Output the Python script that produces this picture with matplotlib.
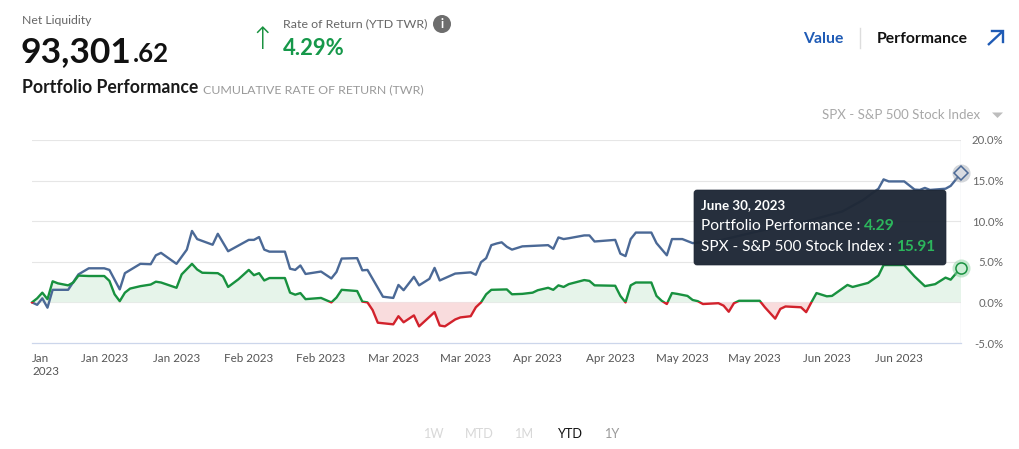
import matplotlib
matplotlib.use("Agg")
import matplotlib.pyplot as plt
import matplotlib.dates as mdates
from matplotlib.patches import Rectangle, FancyBboxPatch, Circle, Polygon
import pandas as pd

# ---------------- data ----------------
spx_dates = ["2023-01-01", "2023-01-02", "2023-01-03", "2023-01-04", "2023-01-05", "2023-01-08",
             "2023-01-10", "2023-01-12", "2023-01-15", "2023-01-16", "2023-01-18", "2023-01-19",
             "2023-01-22", "2023-01-24", "2023-01-25", "2023-01-26", "2023-01-29", "2023-01-31",
             "2023-02-01", "2023-02-02", "2023-02-05", "2023-02-06", "2023-02-08", "2023-02-12",
             "2023-02-13", "2023-02-14", "2023-02-15", "2023-02-16", "2023-02-19", "2023-02-20",
             "2023-02-21", "2023-02-22", "2023-02-23", "2023-02-26", "2023-02-28", "2023-03-01",
             "2023-03-02", "2023-03-05", "2023-03-06", "2023-03-07", "2023-03-10", "2023-03-12",
             "2023-03-13", "2023-03-14", "2023-03-16", "2023-03-17", "2023-03-19", "2023-03-20",
             "2023-03-21", "2023-03-24", "2023-03-27", "2023-03-28", "2023-03-29", "2023-03-30",
             "2023-03-31", "2023-04-01", "2023-04-02", "2023-04-03", "2023-04-04", "2023-04-06",
             "2023-04-11", "2023-04-12", "2023-04-13", "2023-04-14", "2023-04-15", "2023-04-18",
             "2023-04-19", "2023-04-20", "2023-04-24", "2023-04-25", "2023-04-26", "2023-04-27",
             "2023-04-28", "2023-05-01", "2023-05-02", "2023-05-04", "2023-05-05", "2023-05-07",
             "2023-05-09", "2023-05-14", "2023-05-22", "2023-05-30", "2023-06-07", "2023-06-11",
             "2023-06-14", "2023-06-15", "2023-06-16", "2023-06-19", "2023-06-21", "2023-06-22",
             "2023-06-23", "2023-06-24", "2023-06-27", "2023-06-28", "2023-06-30"]
spx_values = [0.0, -0.3, 0.5, -0.65, 1.55, 1.55,
              3.45, 4.2, 4.2, 4.0, 1.6, 3.6,
              4.75, 4.7, 5.8, 6.1, 4.75, 6.5,
              8.8, 7.8, 7.1, 8.45, 6.3, 7.7,
              7.7, 8.05, 6.5, 6.25, 6.25, 4.15,
              4.0, 4.55, 3.5, 3.8, 2.95, 3.75,
              5.4, 5.45, 3.95, 4.0, 0.7, 0.55,
              2.15, 1.5, 3.15, 2.1, 2.9, 4.25,
              2.7, 3.55, 3.7, 3.4, 4.95, 5.45,
              7.05, 7.25, 7.4, 6.85, 6.5, 6.9,
              7.05, 6.6, 8.0, 7.8, 7.9, 8.25,
              8.25, 7.5, 7.7, 6.0, 5.7, 7.8,
              8.6, 8.6, 7.3, 5.8, 7.8, 7.8,
              7.3, 7.6, 8.8, 9.8, 11.2, 12.6,
              14.0, 15.15, 14.9, 14.9, 13.9, 13.85,
              14.1, 13.85, 14.0, 14.35, 15.91]

port_dates = ["2023-01-01", "2023-01-02", "2023-01-03", "2023-01-04", "2023-01-05", "2023-01-06",
              "2023-01-08", "2023-01-09", "2023-01-10", "2023-01-12", "2023-01-15", "2023-01-16",
              "2023-01-17", "2023-01-18", "2023-01-19", "2023-01-20", "2023-01-22", "2023-01-24",
              "2023-01-25", "2023-01-26", "2023-01-29", "2023-01-30", "2023-02-01", "2023-02-02",
              "2023-02-03", "2023-02-06", "2023-02-07", "2023-02-08", "2023-02-10", "2023-02-12",
              "2023-02-13", "2023-02-14", "2023-02-15", "2023-02-16", "2023-02-19", "2023-02-20",
              "2023-02-21", "2023-02-22", "2023-02-23", "2023-02-26", "2023-02-28", "2023-03-01",
              "2023-03-02", "2023-03-05", "2023-03-06", "2023-03-07", "2023-03-08", "2023-03-09",
              "2023-03-12", "2023-03-13", "2023-03-14", "2023-03-16", "2023-03-17", "2023-03-20",
              "2023-03-21", "2023-03-22", "2023-03-24", "2023-03-25", "2023-03-27", "2023-03-28",
              "2023-03-29", "2023-03-30", "2023-03-31", "2023-04-03", "2023-04-04", "2023-04-06",
              "2023-04-08", "2023-04-09", "2023-04-11", "2023-04-12", "2023-04-13", "2023-04-14",
              "2023-04-15", "2023-04-18", "2023-04-19", "2023-04-20", "2023-04-24", "2023-04-25",
              "2023-04-26", "2023-04-27", "2023-04-28", "2023-05-01", "2023-05-02", "2023-05-03",
              "2023-05-04", "2023-05-05", "2023-05-06", "2023-05-08", "2023-05-09", "2023-05-10",
              "2023-05-11", "2023-05-14", "2023-05-15", "2023-05-16", "2023-05-17", "2023-05-18",
              "2023-05-22", "2023-05-23", "2023-05-25", "2023-05-26", "2023-05-27", "2023-05-30",
              "2023-05-31", "2023-06-01", "2023-06-02", "2023-06-04", "2023-06-05", "2023-06-08",
              "2023-06-09", "2023-06-12", "2023-06-14", "2023-06-15", "2023-06-19", "2023-06-21",
              "2023-06-23", "2023-06-25", "2023-06-27", "2023-06-28", "2023-06-30"]
port_values = [0.0, 0.5, 1.2, 0.4, 2.6, 2.35,
               2.1, 2.45, 3.3, 3.25, 3.25, 2.65,
               1.0, 0.15, 1.2, 1.7, 2.0, 2.2,
               2.55, 2.45, 1.8, 3.45, 4.75, 4.05,
               3.65, 3.6, 3.2, 1.9, 2.85, 4.0,
               3.35, 3.6, 2.7, 3.0, 3.0, 1.2,
               0.95, 1.15, 0.4, 0.55, 0.0, 0.6,
               1.55, 1.4, 0.1, 0.0, -0.95, -2.5,
               -2.7, -1.7, -2.45, -1.6, -2.95, -1.2,
               -2.85, -2.95, -2.1, -1.85, -1.7, -0.6,
               0.0, 1.0, 1.55, 1.6, 1.0, 1.05,
               1.2, 1.5, 1.8, 1.55, 2.1, 1.9,
               2.25, 2.75, 2.65, 2.1, 2.05, 0.8,
               0.0, 2.1, 2.45, 2.45, 0.8, 0.2,
               -0.2, 1.15, 1.05, 0.8, 0.3, 0.15,
               -0.2, -0.1, -0.4, -1.15, -0.1, 0.2,
               0.2, -0.6, -2.0, -0.8, -0.5, -0.6,
               -1.2, 0.0, 1.15, 0.75, 0.8, 2.15,
               1.9, 2.4, 3.3, 4.6, 4.6, 3.2,
               2.0, 2.25, 3.05, 2.8, 4.29]

y_ticks = [-5, 0, 5, 10, 15, 20]
y_tick_labels = ["-5.0%", "0.0%", "5.0%", "10.0%", "15.0%", "20.0%"]
x_tick_dates = pd.date_range("2023-01-01", periods=13, freq="14D")
range_buttons = ["1W", "MTD", "1M", "YTD", "1Y"]

net_liquidity_int = "93,301"
net_liquidity_dec = ".62"
ytd_return = "4.29%"
tooltip_date = "June 30, 2023"
port_label = "Portfolio Performance"
spx_label = "SPX - S&P 500 Stock Index"
port_last = "4.29"
spx_last = "15.91"

# ---------------- style ----------------
W, H = 1020, 449
FONT = ["Lato", "DejaVu Sans"]
plt.rcParams["font.family"] = FONT
BLUE = "#4b6996"
GREEN = "#18913f"
RED = "#d2222c"
GREEN_FILL = "#e6f4ea"
RED_FILL = "#f9dcdd"
GRID = "#e6e6e6"
TICK = "#666666"

fig = plt.figure(figsize=(W / 100, H / 100), dpi=100)
fig.patch.set_facecolor("white")

x0, x1, ytop, ybot = 32, 961, 140, 343
ax = fig.add_axes([x0 / W, 1 - ybot / H, (x1 - x0) / W, (ybot - ytop) / H])

sd = pd.to_datetime(spx_dates)
pdt = pd.to_datetime(port_dates)
start, end = pd.Timestamp("2023-01-01"), pd.Timestamp("2023-06-30")

ax.set_xlim(start, end)
ax.set_ylim(-5, 20)
for s in ["top", "left", "right"]:
    ax.spines[s].set_visible(False)
ax.spines["bottom"].set_color("#ccd6eb")
ax.spines["bottom"].set_linewidth(0.9)
for v in y_ticks[1:]:
    ax.axhline(v, color=GRID, lw=0.8, zorder=0)

# crosshair
ax.axvline(end, color="#cfd3da", lw=0.9, zorder=1)

# fills
ax.fill_between(pdt, port_values, 0, where=[v >= 0 for v in port_values], interpolate=True,
                color=GREEN_FILL, lw=0, zorder=1)
ax.fill_between(pdt, port_values, 0, where=[v <= 0 for v in port_values], interpolate=True,
                color=RED_FILL, lw=0, zorder=1)

# SPX line
ax.plot(sd, spx_values, color=BLUE, lw=1.7, zorder=3, solid_joinstyle="round")

# portfolio line coloured by sign (clipped)
xn0, xn1 = mdates.date2num(start) - 5, mdates.date2num(end) + 5
gl, = ax.plot(pdt, port_values, color=GREEN, lw=1.7, zorder=4, solid_joinstyle="round")
rl, = ax.plot(pdt, port_values, color=RED, lw=1.7, zorder=4, solid_joinstyle="round")
clip_up = Rectangle((xn0, 0), xn1 - xn0, 40, transform=ax.transData)
clip_dn = Rectangle((xn0, -40), xn1 - xn0, 40, transform=ax.transData)
gl.set_clip_path(clip_up)
rl.set_clip_path(clip_dn)

# end markers with halo
ax.plot([sd[-1]], [spx_values[-1]], marker="o", ms=13, color="#9ea4ae", alpha=0.45,
        zorder=5, clip_on=False, mew=0)
ax.plot([sd[-1]], [spx_values[-1]], marker="D", ms=7, mfc="#d9dce2", mec=BLUE, mew=1.1,
        zorder=6, clip_on=False)
ax.plot([pdt[-1]], [port_values[-1]], marker="o", ms=13, color="#8fd3a3", alpha=0.5,
        zorder=5, clip_on=False, mew=0)
ax.plot([pdt[-1]], [port_values[-1]], marker="o", ms=8, mfc="#cdeed6", mec=GREEN, mew=1.1,
        zorder=6, clip_on=False)

# ticks
ax.set_yticks(y_ticks)
ax.set_yticklabels(y_tick_labels)
ax.yaxis.tick_right()
ax.tick_params(axis="y", length=0, pad=30.5, labelsize=8.2, labelcolor=TICK)
for lab in ax.get_yticklabels():
    lab.set_horizontalalignment("right")

ax.set_xticks(x_tick_dates)
xl = [d.strftime("%b %Y") for d in x_tick_dates]
xl[0] = x_tick_dates[0].strftime("%b\n%Y")
ax.set_xticklabels(xl)
ax.tick_params(axis="x", length=0, pad=7.5, labelsize=8.4, labelcolor="#555555")
first = ax.get_xticklabels()[0]
first.set_horizontalalignment("left")
first.set_multialignment("left")

# ---------------- overlay (pixel coordinates) ----------------
ov = fig.add_axes([0, 0, 1, 1], zorder=10)
ov.set_xlim(0, W)
ov.set_ylim(H, 0)
ov.axis("off")
ov.patch.set_alpha(0)

renderer = fig.canvas.get_renderer()


def right_px(t):
    bb = t.get_window_extent(renderer=renderer)
    return bb.x1


# header left
ov.text(22, 24, "Net Liquidity", fontsize=8.8, color="#666666", va="baseline")
t = ov.text(21, 62, net_liquidity_int, fontsize=25.5, color="#111111", va="baseline",
            fontweight="bold")
ov.text(right_px(t) + 1, 62, net_liquidity_dec, fontsize=18.5, color="#111111",
        va="baseline", fontweight="bold")

ov.text(262, 49, "\u2191", fontsize=22, color=GREEN, va="baseline", ha="center",
        family=["DejaVu Sans"], fontweight="light")
t = ov.text(283, 27, "Rate of Return (YTD TWR)", fontsize=8.9, color="#666666", va="baseline")
ov.add_patch(Circle((442, 24), 9, color="#6d6d6d", lw=0))
ov.text(442, 24.5, "i", fontsize=9, color="white", ha="center", va="center", fontweight="bold")
ov.text(283, 55, ytd_return, fontsize=15.8, color="#16984a", va="baseline", fontweight="bold")

t = ov.text(22, 93, "Portfolio Performance", fontsize=12.7, color="#1a1a1a", va="baseline",
            fontweight="bold")
ov.text(right_px(t) + 5, 93, "CUMULATIVE RATE OF RETURN (TWR)", fontsize=8.9,
        color="#9a9a9a", va="baseline")

# header right
ov.text(803, 43, "Value", fontsize=11.3, color="#1f5bb5", va="baseline", fontweight="bold")
ov.plot([860, 860], [28, 48], color="#dddddd", lw=1)
ov.text(877, 43, "Performance", fontsize=11.3, color="#111111", va="baseline",
        fontweight="bold")
ov.plot([988, 1003], [45, 31], color="#1f5bb5", lw=1.7, solid_capstyle="butt")
ov.plot([992, 1003, 1003], [31, 31, 42], color="#1f5bb5", lw=1.7, solid_joinstyle="miter")
ov.text(980, 119, "SPX - S&P 500 Stock Index", fontsize=9.5, color="#a8a8a8",
        va="baseline", ha="right")
ov.add_patch(Polygon([[992, 112.5], [1003, 112.5], [997.5, 118]], closed=True,
                     color="#bdbdbd", lw=0))

# tooltip
ov.add_patch(FancyBboxPatch((694, 190), 252, 75, boxstyle="round,pad=0,rounding_size=3",
                            fc="#1f2836", ec="#1f2836", lw=0.5, alpha=0.97))
ov.text(701, 209, tooltip_date, fontsize=9.6, color="white", va="baseline",
        fontweight="bold")
t = ov.text(701, 230, port_label + " : ", fontsize=11.2, color="white", va="baseline")
ov.text(right_px(t), 230, port_last, fontsize=11.2, color="#2cb65c", va="baseline",
        fontweight="bold")
t = ov.text(701, 251, spx_label + " : ", fontsize=11.1, color="white", va="baseline")
ov.text(right_px(t), 251, spx_last, fontsize=11.1, color="#2cb65c", va="baseline",
        fontweight="bold")

# range buttons
btn_x = [433, 479, 524, 570, 612]
btn_col = ["#d8d8d8", "#d8d8d8", "#d8d8d8", "#111111", "#9a9a9a"]
for lbl, bx, bc in zip(range_buttons, btn_x, btn_col):
    ov.text(bx, 438, lbl, fontsize=9.2, color=bc, ha="center", va="baseline")

fig.savefig("out.png", dpi=100)
